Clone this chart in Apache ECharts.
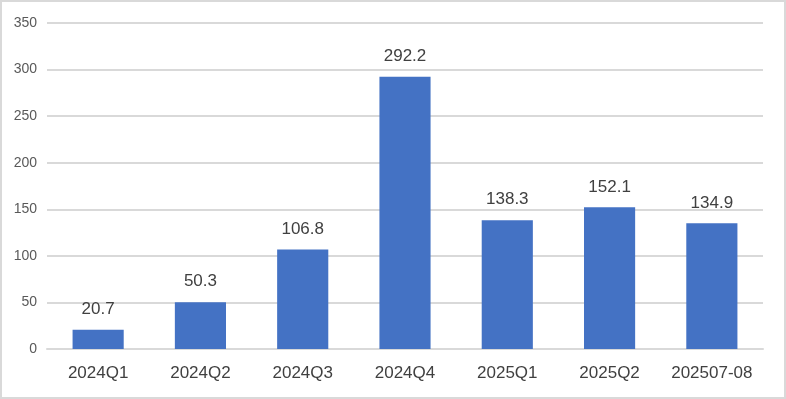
<!DOCTYPE html>
<html><head><meta charset="utf-8">
<script src="https://cdn.jsdelivr.net/npm/echarts@6/dist/echarts.min.js"></script>
<style>
html,body{margin:0;padding:0;background:#fff;}
#c{width:786px;height:399px;box-sizing:border-box;border:2px solid #d9d9d9;}
</style></head>
<body><div id="c"></div>
<script>
const categories = ['2024Q1','2024Q2','2024Q3','2024Q4','2025Q1','2025Q2','202507-08'];
const values = [20.7, 50.3, 106.8, 292.2, 138.3, 152.1, 134.9];
const yTicks = {min: 0, max: 350, interval: 50};

const chart = echarts.init(document.getElementById('c'), null, {renderer: 'canvas'});
chart.setOption({
  animation: false,
  grid: {left: 45, right: 21, top: 21, bottom: 48},
  xAxis: {
    type: 'category',
    data: categories,
    axisLine: {lineStyle: {color: '#d9d9d9', width: 2}},
    axisTick: {show: false},
    axisLabel: {interval: 0, color: '#404040', fontSize: 17, fontFamily: 'Liberation Sans, Arial, sans-serif', margin: 16}
  },
  yAxis: {
    type: 'value',
    min: yTicks.min, max: yTicks.max, interval: yTicks.interval,
    axisLine: {show: false},
    axisTick: {show: false},
    splitLine: {lineStyle: {color: '#d9d9d9', width: 2}},
    axisLabel: {color: '#595959', fontSize: 14, fontFamily: 'Liberation Sans, Arial, sans-serif', margin: 10}
  },
  series: [{
    type: 'bar',
    data: values,
    barWidth: '50%',
    itemStyle: {color: '#4472C4'},
    label: {show: true, position: 'top', distance: 12, color: '#404040', fontSize: 17,
      fontFamily: 'Liberation Sans, Arial, sans-serif'}
  }]
});
</script></body></html>
